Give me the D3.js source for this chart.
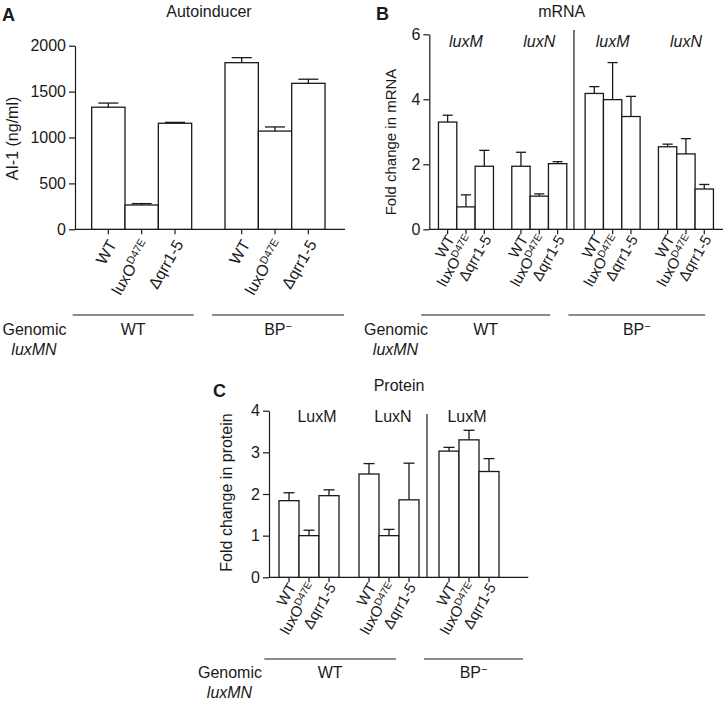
<!DOCTYPE html>
<html>
<head>
<meta charset="utf-8">
<script src="https://cdn.jsdelivr.net/npm/d3@7"></script>
<style>
  body { margin: 0; background: #fff; }
  svg { display: block; }
  text { font-family: 'Liberation Sans', Arial, Helvetica, sans-serif; fill: #1a1a1a; }
</style>
</head>
<body>
<script>
// ---------------- DATA ----------------
const strainLabels = ["WT", "luxO|D47E", "Δqrr1-5"];
const genomicLabels = ["WT", "BP|−"];

// Panel A: Autoinducer (AI-1 ng/ml), WT genomic then BP- genomic
const aiValues = [1330, 265, 1155, 1815, 1070, 1590];
const aiErrors = [45, 15, 10, 55, 45, 45];
const aiTicks = [0, 500, 1000, 1500, 2000];
const aiTickLabels = ["0", "500", "1000", "1500", "2000"];

// Panel B: mRNA fold change, groups luxM, luxN (WT) | luxM, luxN (BP-)
const mrnaGroups = ["luxM", "luxN", "luxM", "luxN"];
const mrnaValues = [3.30, 0.69, 1.94, 1.94, 1.02, 2.02, 4.18, 3.99, 3.47, 2.54, 2.32, 1.24];
const mrnaErrors = [0.21, 0.37, 0.49, 0.43, 0.07, 0.06, 0.21, 1.14, 0.62, 0.08, 0.47, 0.14];
const mrnaTicks = [0, 2, 4, 6];
const mrnaTickLabels = ["0", "2", "4", "6"];

// Panel C: protein fold change, groups LuxM, LuxN (WT) | LuxM (BP-)
const proteinGroups = ["LuxM", "LuxN", "LuxM"];
const proteinValues = [1.84, 1.00, 1.96, 2.48, 1.00, 1.86, 3.03, 3.30, 2.54];
const proteinErrors = [0.19, 0.13, 0.14, 0.25, 0.15, 0.88, 0.09, 0.23, 0.31];
const proteinTicks = [0, 1, 2, 3, 4];
const proteinTickLabels = ["0", "1", "2", "3", "4"];

// ---------------- DRAWING ----------------
const svg = d3.select("body").append("svg").attr("width", 725).attr("height", 701);
const INK = "#1a1a1a";

function addLabel(sel, label) {
  const parts = label.split("|");
  sel.text(null);
  sel.append("tspan").text(parts[0]);
  if (parts.length > 1) {
    sel.append("tspan").attr("font-size", "68%").attr("dy", "-0.5em").text(parts[1]);
  }
}

function panel(cfg) {
  const g = svg.append("g");
  const nGroups = cfg.values.length / 3;
  const slots = [];
  const barKeys = [];
  for (let gi = 0; gi < nGroups; gi++) {
    for (let k = 0; k < 3; k++) { slots.push(`b${gi}_${k}`); barKeys.push(`b${gi}_${k}`); }
    if (gi < nGroups - 1) slots.push(`gap${gi}`);
  }
  const x = d3.scaleBand().domain(slots).range(cfg.xRange).paddingInner(0).paddingOuter(0.5);
  const y = d3.scaleLinear().domain([0, cfg.yMax]).range(cfg.yRange);
  const bw = x.bandwidth();
  const y0 = y(0);

  // y axis
  const ya = g.append("g").attr("transform", `translate(${cfg.xAxisStart},0)`)
    .call(d3.axisLeft(y).tickValues(cfg.yTicks).tickSize(6).tickSizeOuter(0).tickPadding(3)
      .tickFormat((d, i) => cfg.yTickLabels[i]));
  ya.selectAll("path,line").attr("stroke", INK).attr("stroke-width", 1.2);
  ya.selectAll("text").attr("font-size", cfg.tickFont).attr("fill", INK)
    .style("font-family", "'Liberation Sans', Arial, sans-serif");

  // x axis
  const xa = g.append("g").attr("transform", `translate(0,${y0})`)
    .call(d3.axisBottom(x).tickValues(barKeys).tickSize(5).tickSizeOuter(0)
      .tickFormat((d) => strainLabels[+d.split("_")[1]]));
  xa.select(".domain").remove();
  xa.selectAll("line").attr("stroke", INK).attr("stroke-width", 1.2);
  xa.selectAll("text")
    .attr("x", 0).attr("y", 0).attr("dy", "0.35em")
    .attr("text-anchor", "end")
    .attr("transform", `translate(${cfg.lblDx},${cfg.lblDy}) rotate(-60)`)
    .attr("font-size", cfg.lblFont).attr("fill", INK)
    .style("font-family", "'Liberation Sans', Arial, sans-serif")
    .each(function (d) { addLabel(d3.select(this), strainLabels[+d.split("_")[1]]); });
  g.append("line").attr("x1", cfg.xAxisStart).attr("x2", cfg.xAxisEnd)
    .attr("y1", y0).attr("y2", y0).attr("stroke", INK).attr("stroke-width", 1.2);

  // dividers
  (cfg.dividers || []).forEach((gi) => {
    const dx = x(`gap${gi}`) + bw / 2 - 2;
    g.append("line").attr("x1", dx).attr("x2", dx).attr("y1", cfg.dividerTop).attr("y2", y0)
      .attr("stroke", INK).attr("stroke-width", 1.2);
  });

  // bars
  const data = cfg.values.map((v, i) => ({ key: barKeys[i], v, e: cfg.errors[i] }));
  const capW = bw * cfg.capRatio;
  const eb = g.append("g").selectAll("g").data(data).join("g");
  eb.append("line")
    .attr("x1", (d) => x(d.key) + bw / 2).attr("x2", (d) => x(d.key) + bw / 2)
    .attr("y1", (d) => y(d.v)).attr("y2", (d) => y(d.v + d.e))
    .attr("stroke", INK).attr("stroke-width", 1.3);
  eb.append("line")
    .attr("x1", (d) => x(d.key) + bw / 2 - capW / 2).attr("x2", (d) => x(d.key) + bw / 2 + capW / 2)
    .attr("y1", (d) => y(d.v + d.e)).attr("y2", (d) => y(d.v + d.e))
    .attr("stroke", INK).attr("stroke-width", 1.3);
  g.append("g").selectAll("rect").data(data).join("rect")
    .attr("x", (d) => x(d.key)).attr("width", bw)
    .attr("y", (d) => y(d.v)).attr("height", (d) => y0 - y(d.v))
    .attr("fill", "#fff").attr("stroke", INK).attr("stroke-width", 1.3);

  // group labels
  (cfg.groups || []).forEach((lab, gi) => {
    const cx = (x(`b${gi}_0`) + x(`b${gi}_2`) + bw) / 2;
    g.append("text").attr("x", cx + (cfg.groupDx ? cfg.groupDx[gi] : 0)).attr("y", cfg.groupY)
      .attr("text-anchor", "middle").attr("font-size", cfg.groupFont)
      .attr("font-style", cfg.groupItalic ? "italic" : "normal").text(lab);
  });

  // title and letter
  g.append("text").attr("x", cfg.titleX).attr("y", cfg.titleY).attr("text-anchor", "middle")
    .attr("font-size", 16).text(cfg.title);
  g.append("text").attr("x", cfg.letterX).attr("y", cfg.letterY)
    .attr("font-size", 18).attr("font-weight", "bold").text(cfg.letter);

  // y axis label
  g.append("text").attr("transform", `translate(${cfg.yLabelX},${cfg.yLabelY}) rotate(-90)`)
    .attr("text-anchor", "middle").attr("dy", "0.35em").attr("font-size", cfg.yLabelFont)
    .text(cfg.yLabel);

  // genomic lines
  cfg.genomic.forEach((gen, i) => {
    const first = x(`b${gen.from}_0`) + gen.l;
    const last = x(`b${gen.to}_2`) + bw + gen.r;
    g.append("line").attr("x1", first).attr("x2", last).attr("y1", cfg.genLineY).attr("y2", cfg.genLineY)
      .attr("stroke", INK).attr("stroke-width", 1.2);
    const t = g.append("text").attr("x", (first + last) / 2).attr("y", cfg.genTextY)
      .attr("text-anchor", "middle").attr("font-size", 16);
    addLabel(t, genomicLabels[i]);
  });
  g.append("text").attr("x", cfg.genomicX).attr("y", cfg.genTextY).attr("text-anchor", "end")
    .attr("font-size", 16).text("Genomic");
  g.append("text").attr("x", cfg.genomicX - 32.5).attr("y", cfg.genTextY + 20).attr("text-anchor", "middle")
    .attr("font-size", 16).attr("font-style", "italic").text("luxMN");
}

panel({
  letter: "A", letterX: 2, letterY: 21, title: "Autoinducer", titleX: 209, titleY: 17,
  values: aiValues, errors: aiErrors, yMax: 2000, yTicks: aiTicks, yTickLabels: aiTickLabels,
  xRange: [75, 341.7], yRange: [229.3, 45.7], xAxisStart: 75, xAxisEnd: 345,
  tickFont: 16, lblFont: 16, lblDx: 4, lblDy: 12, capRatio: 0.6,
  yLabel: "AI-1 (ng/ml)", yLabelX: 12, yLabelY: 138.5, yLabelFont: 16,
  genLineY: 315, genTextY: 335, genomicX: 66.5,
  genomic: [{ from: 0, to: 0, l: -19, r: 2 }, { from: 1, to: 1, l: -13, r: 19 }]
});

panel({
  letter: "B", letterX: 376, letterY: 20, title: "mRNA", titleX: 561.7, titleY: 17,
  values: mrnaValues, errors: mrnaErrors, yMax: 6, yTicks: mrnaTicks, yTickLabels: mrnaTickLabels,
  xRange: [429.3, 722.6], yRange: [229.3, 34.3], xAxisStart: 429.3, xAxisEnd: 723,
  tickFont: 16, lblFont: 15, lblDx: 3, lblDy: 7, capRatio: 0.55,
  dividers: [1], dividerTop: 30,
  groups: mrnaGroups, groupY: 47, groupFont: 16, groupItalic: true,
  yLabel: "Fold change in mRNA", yLabelX: 391, yLabelY: 142, yLabelFont: 15,
  genLineY: 315, genTextY: 335, genomicX: 428,
  genomic: [{ from: 0, to: 1, l: -17.3, r: -16.6 }, { from: 2, to: 3, l: -16.7, r: -8.3 }]
});

panel({
  letter: "C", letterX: 213, letterY: 396.5, title: "Protein", titleX: 399, titleY: 391,
  values: proteinValues, errors: proteinErrors, yMax: 4, yTicks: proteinTicks, yTickLabels: proteinTickLabels,
  xRange: [269, 509], yRange: [577.3, 410.7], xAxisStart: 269, xAxisEnd: 528.3,
  tickFont: 16, lblFont: 15, lblDx: 3, lblDy: 7, capRatio: 0.55,
  dividers: [1], dividerTop: 414,
  groups: proteinGroups, groupY: 422, groupFont: 16, groupItalic: false, groupDx: [8, 4, -2],
  yLabel: "Fold change in protein", yLabelX: 226.5, yLabelY: 492.5, yLabelFont: 16,
  genLineY: 659, genTextY: 678, genomicX: 262,
  genomic: [{ from: 0, to: 1, l: -14.7, r: -23 }, { from: 2, to: 2, l: -15, r: 24 }]
});
</script>
</body>
</html>
